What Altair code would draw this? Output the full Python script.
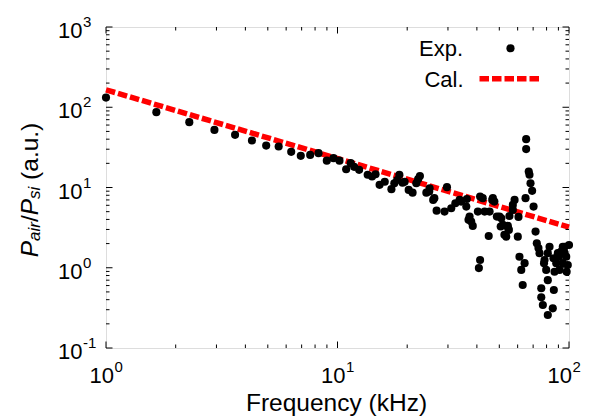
import altair as alt
import pandas as pd

# ---- data ----
exp_freq = [1.0, 1.65, 2.29, 2.94, 3.61, 4.27, 4.92, 5.57, 6.31, 6.94, 7.62, 8.28, 8.99, 9.61,
            10.2, 10.9, 11.4, 11.8, 12.4, 13.5, 14.1, 14.6, 15.2, 16.0, 17.1, 17.6, 18.1, 18.5,
            19.1, 19.5, 20.3, 21.1, 21.9, 22.3, 22.7, 24.2, 24.9, 25.0, 25.9, 26.2, 26.8, 29.0,
            29.7, 31.0, 32.3, 33.7, 34.2, 36.0, 36.2, 36.8, 37.2, 37.8, 38.4, 40.4, 40.8, 41.3,
            41.3, 42.4, 43.2, 45.0, 45.4, 46.6, 46.9, 47.6, 48.8, 50.1, 50.7, 51.0, 51.8, 52.6,
            53.6, 54.4, 54.6, 55.0, 55.3, 57.2, 57.2, 58.2, 60.1, 60.5, 61.1, 62.2, 63.1, 64.3,
            64.9, 65.3, 65.3, 67.0, 67.5, 68.2, 69.3, 70.3, 71.7, 72.6, 73.8, 74.6, 75.9, 75.9,
            77.1, 78.0, 78.4, 79.7, 81.0, 81.0, 81.0, 82.4, 85.1, 85.7, 86.0, 86.6, 88.1, 89.5,
            90.5, 91.0, 92.5, 94.0, 94.0, 95.8, 95.8, 97.3, 97.7, 98.8, 100.0]
exp_ratio = [132, 86.9, 65.2, 52.2, 45.3, 38.5, 33.3, 32.4, 27.8, 24.8, 25.5, 26.8, 21.6, 23.2,
             21.6, 16.9, 20.1, 18.1, 16.6, 14.4, 13.7, 14.6, 10.8, 11.8, 9.53, 11.3, 12.4, 14.4,
             11.5, 11.8, 9.33, 8.63, 11.3, 12.7, 13.9, 8.63, 8.9, 9.8, 7.0, 7.36, 5.15, 5.01,
             10.1, 5.52, 6.37, 7.0, 6.67, 5.78, 7.2, 3.95, 4.34, 3.76, 3.32, 5.01, 0.99, 1.25,
             7.7, 7.36, 5.01, 2.49, 5.01, 7.0, 7.36, 6.67, 4.34, 4.34, 3.27, 4.14, 3.42, 2.57,
             2.44, 3.32, 3.11, 2.96, 4.42, 6.07, 5.26, 7.0, 2.44, 4.3, 1.37, 0.94, 0.61, 1.14,
             7.36, 40.0, 30.1, 15.8, 14.4, 11.3, 9.08, 5.78, 2.82, 2.02, 1.76, 1.52, 0.555, 0.428,
             0.343, 1.14, 1.25, 0.94, 0.70, 0.258, 1.52, 1.83, 0.312, 1.31, 0.528, 0.89, 1.14, 1.52,
             1.37, 0.94, 1.59, 1.83, 1.14, 1.52, 1.83, 1.37, 0.89, 1.08, 1.92]

cal_freq = [1, 100]
cal_ratio = [165, 3.2]

x_major = [1, 10, 100]
x_exponents = ["0", "1", "2"]
x_minor = [2, 3, 4, 5, 6, 7, 8, 9, 20, 30, 40, 50, 60, 70, 80, 90]
y_major = [0.1, 1, 10, 100, 1000]
y_exponents = ["-1", "0", "1", "2", "3"]
y_minor = [m * d for d in (0.1, 1, 10, 100) for m in (2, 3, 4, 5, 6, 7, 8, 9)]

legend_labels = ["Exp.", "Cal."]
x_title = ["Frequency (kHz)"]
y_title_parts = ["P", "air", "/", "P", "si", "(a.u.)"]

# ---- layout ----
W, H = 463, 321
FONT = "Liberation Sans"
BLACK = "#000000"
RED = "#ff0000"
DOT = 66

xs = alt.Scale(type="log", domain=[1, 100], nice=False)
ys = alt.Scale(type="log", domain=[0.1, 1000], nice=False)

exp_df = pd.DataFrame({"f": exp_freq, "r": exp_ratio})
cal_df = pd.DataFrame({"f": cal_freq, "r": cal_ratio})
xmaj_df = pd.DataFrame({"t": x_major, "e": x_exponents})
xmin_df = pd.DataFrame({"t": x_minor})
ymaj_df = pd.DataFrame({"t": y_major, "e": y_exponents})
ymin_df = pd.DataFrame({"t": y_minor})

XF = alt.X("f:Q", scale=xs, axis=None)
YF = alt.Y("r:Q", scale=ys, axis=None)
XT = alt.X("t:Q", scale=xs, axis=None)
YT = alt.Y("t:Q", scale=ys, axis=None)

layers = []

# curves
layers.append(alt.Chart(cal_df).mark_line(color=RED, strokeWidth=5.5, strokeDash=[9.5, 3])
              .encode(x=XF, y=YF))
layers.append(alt.Chart(exp_df).mark_circle(color=BLACK, size=DOT, opacity=1)
              .encode(x=XF, y=YF))

# inward ticks on all four sides
for df, ln in ((xmaj_df, 6.5), (xmin_df, 3.5)):
    layers.append(alt.Chart(df).mark_rule(color=BLACK, strokeWidth=1)
                  .encode(x=XT, y=alt.value(H), y2=alt.value(H - ln)))
    layers.append(alt.Chart(df).mark_rule(color=BLACK, strokeWidth=1)
                  .encode(x=XT, y=alt.value(0), y2=alt.value(ln)))
for df, ln in ((ymaj_df, 6.5), (ymin_df, 3.5)):
    layers.append(alt.Chart(df).mark_rule(color=BLACK, strokeWidth=1)
                  .encode(y=YT, x=alt.value(0), x2=alt.value(ln)))
    layers.append(alt.Chart(df).mark_rule(color=BLACK, strokeWidth=1)
                  .encode(y=YT, x=alt.value(W), x2=alt.value(W - ln)))

# x tick labels (10 with superscript exponent); the last one is nudged left to stay on the page
for sub, shift in ((xmaj_df.iloc[:2], 0.0), (xmaj_df.iloc[2:], -5.0)):
    layers.append(alt.Chart(sub).mark_text(text="10", font=FONT, fontSize=22, align="right",
                                            baseline="alphabetic", dx=8 + shift, color=BLACK)
                  .encode(x=XT, y=alt.value(H + 35.3)))
    layers.append(alt.Chart(sub).mark_text(font=FONT, fontSize=15, align="left",
                                            baseline="alphabetic", dx=8.5 + shift, color=BLACK)
                  .encode(x=XT, y=alt.value(H + 23.7), text="e:N"))

# y tick labels
layers.append(alt.Chart(ymaj_df).mark_text(text="10", font=FONT, fontSize=22, align="right",
                                            baseline="alphabetic", dy=11, color=BLACK)
              .encode(y=YT, x=alt.value(-23.5)))
layers.append(alt.Chart(ymaj_df).mark_text(font=FONT, fontSize=15, align="left",
                                            baseline="alphabetic", dy=0, color=BLACK)
              .encode(y=YT, x=alt.value(-23), text="e:N"))

# x axis title
layers.append(alt.Chart(pd.DataFrame({"s": x_title})).mark_text(
    font=FONT, fontSize=24.5, align="center", baseline="alphabetic", color=BLACK)
    .encode(x=alt.value(W / 2 - 1), y=alt.value(384), text="s:N"))

# y axis title built from pieces (italic P, subscripts)
piece_style = [
    ("italic", 24.5, 0, 0),
    ("italic", 17, 16.3, 2.5),
    ("normal", 24.5, 35.2, 0),
    ("italic", 24.5, 42.0, 0),
    ("italic", 17, 58.3, 2.5),
    ("normal", 24.5, 77.4, 0),
]
for part, (style, fs, dx, dy) in zip(y_title_parts, piece_style):
    layers.append(alt.Chart(pd.DataFrame({"s": [part]})).mark_text(
        font=FONT, fontSize=fs, fontStyle=style, angle=270, align="left",
        baseline="alphabetic", dx=dx, dy=dy, color=BLACK)
        .encode(x=alt.value(-68.2), y=alt.value(230.3), text="s:N"))

# legend
layers.append(alt.Chart(pd.DataFrame({"s": [legend_labels[0]]})).mark_text(
    font=FONT, fontSize=22, align="right", baseline="alphabetic", color=BLACK)
    .encode(x=alt.value(357), y=alt.value(29), text="s:N"))
layers.append(alt.Chart(pd.DataFrame({"s": [legend_labels[1]]})).mark_text(
    font=FONT, fontSize=22, align="right", baseline="alphabetic", color=BLACK)
    .encode(x=alt.value(357.5), y=alt.value(59.7), text="s:N"))
layers.append(alt.Chart(pd.DataFrame({"s": [legend_labels[0]]})).mark_circle(
    color=BLACK, size=DOT, opacity=1)
    .encode(x=alt.value(404.5), y=alt.value(21.3)))
layers.append(alt.Chart(pd.DataFrame({"s": [legend_labels[1]]})).mark_rule(
    color=RED, strokeWidth=5.5, strokeDash=[9.5, 3])
    .encode(x=alt.value(373.5), x2=alt.value(433), y=alt.value(51.7)))

chart = (
    alt.layer(*layers)
    .properties(width=W, height=H,
                autosize=alt.AutoSizeParams(type="none"),
                padding={"left": 98, "top": 19, "right": 13, "bottom": 72})
    .configure_view(stroke=BLACK, strokeWidth=1.5)
    .configure(background="white")
)

chart.save("out.html", embed_options={"renderer": "svg", "actions": False})
